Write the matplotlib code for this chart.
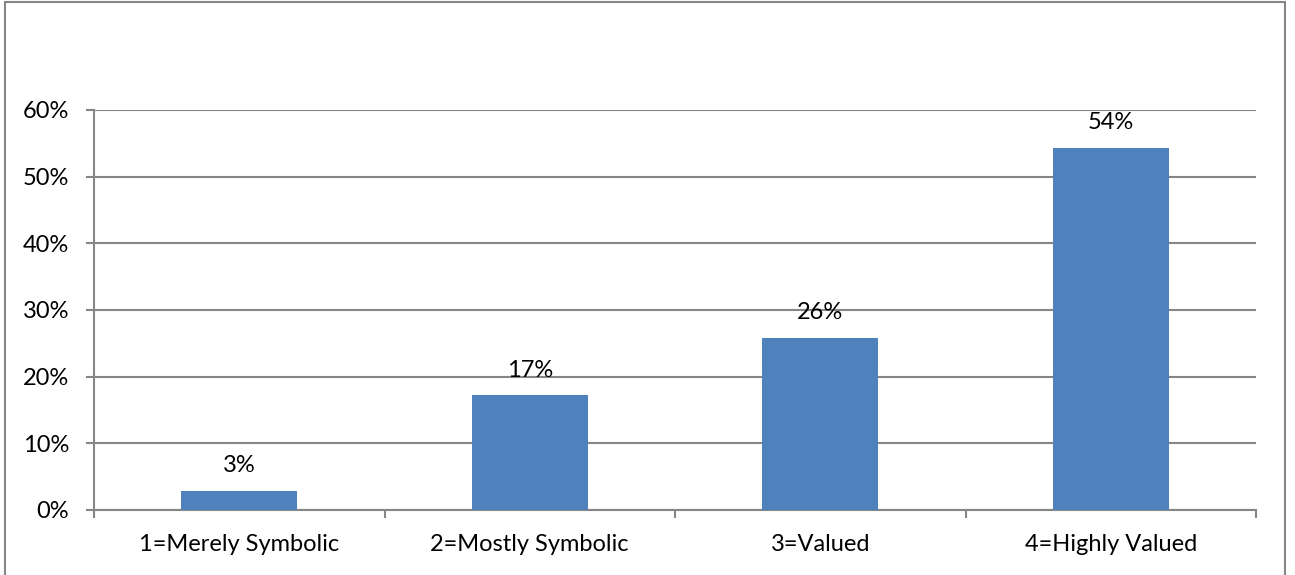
import matplotlib.pyplot as plt
from matplotlib.patches import Rectangle
from matplotlib.ticker import FixedLocator

# Data
categories = ["1=Merely Symbolic", "2=Mostly Symbolic", "3=Valued", "4=Highly Valued"]
values = [0.029, 0.172, 0.258, 0.543]
labels = ["3%", "17%", "26%", "54%"]
y_ticks = [0, 0.1, 0.2, 0.3, 0.4, 0.5, 0.6]
y_tick_labels = ["0%", "10%", "20%", "30%", "40%", "50%", "60%"]

plt.rcParams["font.family"] = ["Lato", "DejaVu Sans"]

grid_color = "#868686"
bar_color = "#4F81BD"
fs = 17

fig = plt.figure(figsize=(12.95, 5.75), dpi=100)
fig.patches.append(Rectangle((5 / 1295, -0.05), 1280 / 1295, 1.047,
                             transform=fig.transFigure, fill=False,
                             edgecolor=grid_color, linewidth=1.5))

ax = fig.add_axes([94 / 1295, 65 / 575, 1162 / 1295, 400 / 575])

x = list(range(len(categories)))
bars = ax.bar(x, values, width=0.4, color=bar_color, zorder=3)

for b, lab in zip(bars, labels):
    ax.text(b.get_x() + b.get_width() / 2, b.get_height() + 0.022, lab,
            ha="center", va="bottom", fontsize=fs, color="black")

ax.set_xlim(-0.5, len(categories) - 0.5)
ax.set_ylim(0, 0.6)
ax.set_yticks(y_ticks)
ax.set_yticklabels(y_tick_labels, fontsize=fs)
ax.set_xticks(x)
ax.set_xticklabels(categories, fontsize=fs)
ax.xaxis.set_minor_locator(FixedLocator([i - 0.5 for i in range(len(categories) + 1)]))

ax.tick_params(axis="x", which="major", length=0, pad=17)
ax.tick_params(axis="x", which="minor", length=6, width=1.5, color=grid_color)
ax.tick_params(axis="y", length=6, width=1.5, color=grid_color, pad=12)

ax.grid(axis="y", color=grid_color, linewidth=1.5, zorder=0)
for s in ["top", "right"]:
    ax.spines[s].set_visible(False)
for s in ["left", "bottom"]:
    ax.spines[s].set_color(grid_color)
    ax.spines[s].set_linewidth(1.5)

plt.savefig("out.png", dpi=100)
